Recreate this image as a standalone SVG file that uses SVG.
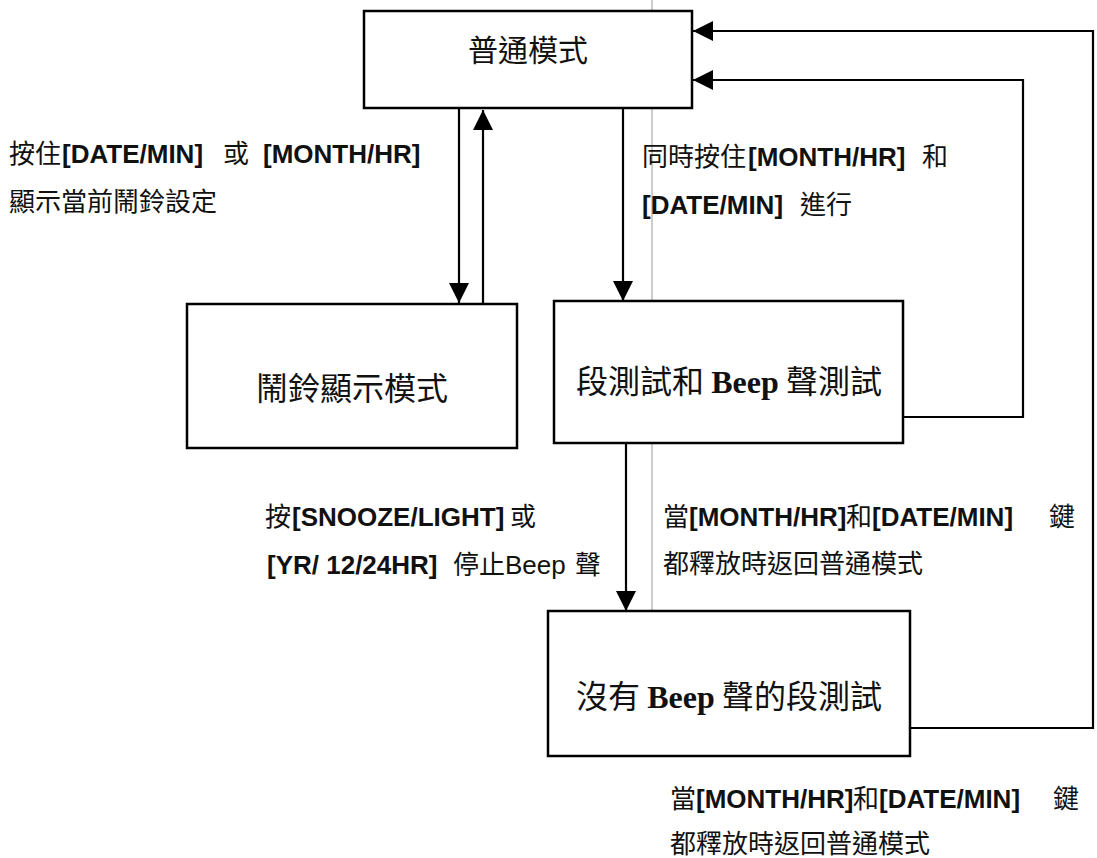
<svg xmlns="http://www.w3.org/2000/svg" width="1097" height="858" viewBox="0 0 1097 858">
<style>
.box{fill:#fff;stroke:#000;stroke-width:2.5}
.con{fill:none;stroke:#000;stroke-width:2.2}
.t{font-family:"Noto Sans CJK TC","Liberation Sans",sans-serif;font-size:32px;fill:#111}
.b{font-family:"Liberation Serif",serif;font-weight:bold}
.l{font-family:"Liberation Sans","Noto Sans CJK TC",sans-serif;font-size:26px;fill:#111}
.k{font-family:"Noto Sans CJK TC","Liberation Sans",sans-serif}
.bd{font-family:"Liberation Sans",Arial,sans-serif;font-weight:bold}
</style>
<defs>
<marker id="ah" viewBox="0 0 20 20" refX="20" refY="10" markerWidth="20" markerHeight="20" markerUnits="userSpaceOnUse" orient="auto">
<path d="M0,0 L20,10 L0,20 z" fill="#000"/>
</marker>
</defs>
<rect width="1097" height="858" fill="#fff"/>
<line x1="652" y1="0" x2="652" y2="757" stroke="#9a9a9a" stroke-width="1"/>
<g id="connectors">
<path class="con" d="M459,109 L459,303" marker-end="url(#ah)"/>
<path class="con" d="M483,304 L483,110" marker-end="url(#ah)"/>
<path class="con" d="M623,108 L623,301" marker-end="url(#ah)"/>
<path class="con" d="M903,417 L1023,417 L1023,80 L693,80" marker-end="url(#ah)"/>
<path class="con" d="M626,443 L626,611" marker-end="url(#ah)"/>
<path class="con" d="M910,728 L1093,728 L1093,31 L693,31" marker-end="url(#ah)"/>
</g>
<g id="node-normal">
<rect class="box" x="364" y="11" width="328" height="97"/>
<text class="t" x="528" y="61" text-anchor="middle" style="font-size:30px">普通模式</text>
</g>
<g id="node-alarm">
<rect class="box" x="187" y="304" width="330" height="144"/>
<text class="t" x="352" y="400" text-anchor="middle">鬧鈴顯示模式</text>
</g>
<g id="node-segbeep">
<rect class="box" x="554" y="301" width="349" height="142"/>
<text class="t" x="729" y="393" text-anchor="middle">段測試和 <tspan class="b">Beep</tspan> 聲測試</text>
</g>
<g id="node-segnobeep">
<rect class="box" x="548" y="611" width="362" height="145"/>
<text class="t" x="729" y="708" text-anchor="middle">沒有 <tspan class="b">Beep</tspan> 聲的段測試</text>
</g>
<g id="label-hold">
<text class="l" y="163"><tspan class="k" x="9">按住</tspan><tspan class="bd" x="62">[DATE/MIN]</tspan><tspan class="k" x="223">或</tspan><tspan class="bd" x="263">[MONTH/HR]</tspan></text>
<text class="l k" x="9" y="211">顯示當前鬧鈴設定</text>
</g>
<g id="label-both">
<text class="l" y="166"><tspan class="k" x="642">同時按住</tspan><tspan class="bd" x="748">[MONTH/HR]</tspan><tspan class="k" x="922">和</tspan></text>
<text class="l" y="214"><tspan class="bd" x="642">[DATE/MIN]</tspan><tspan class="k" x="800">進行</tspan></text>
</g>
<g id="label-snooze">
<text class="l" y="526"><tspan class="k" x="265">按</tspan><tspan class="bd" x="292">[SNOOZE/LIGHT]</tspan><tspan class="k" x="510">或</tspan></text>
<text class="l" y="574"><tspan class="bd" x="267">[YR/ 12/24HR]</tspan><tspan class="k" x="453">停止</tspan><tspan x="505">Beep</tspan><tspan class="k" x="575">聲</tspan></text>
</g>
<g id="label-release1">
<text class="l" y="526"><tspan class="k" x="663">當</tspan><tspan class="bd" x="689">[MONTH/HR]</tspan><tspan class="k" x="846">和</tspan><tspan class="bd" x="872">[DATE/MIN]</tspan><tspan class="k" x="1049">鍵</tspan></text>
<text class="l k" x="663" y="573">都釋放時返回普通模式</text>
</g>
<g id="label-release2">
<text class="l" y="808"><tspan class="k" x="670">當</tspan><tspan class="bd" x="696">[MONTH/HR]</tspan><tspan class="k" x="853">和</tspan><tspan class="bd" x="879">[DATE/MIN]</tspan><tspan class="k" x="1053">鍵</tspan></text>
<text class="l k" x="670" y="853">都釋放時返回普通模式</text>
</g>
</svg>
